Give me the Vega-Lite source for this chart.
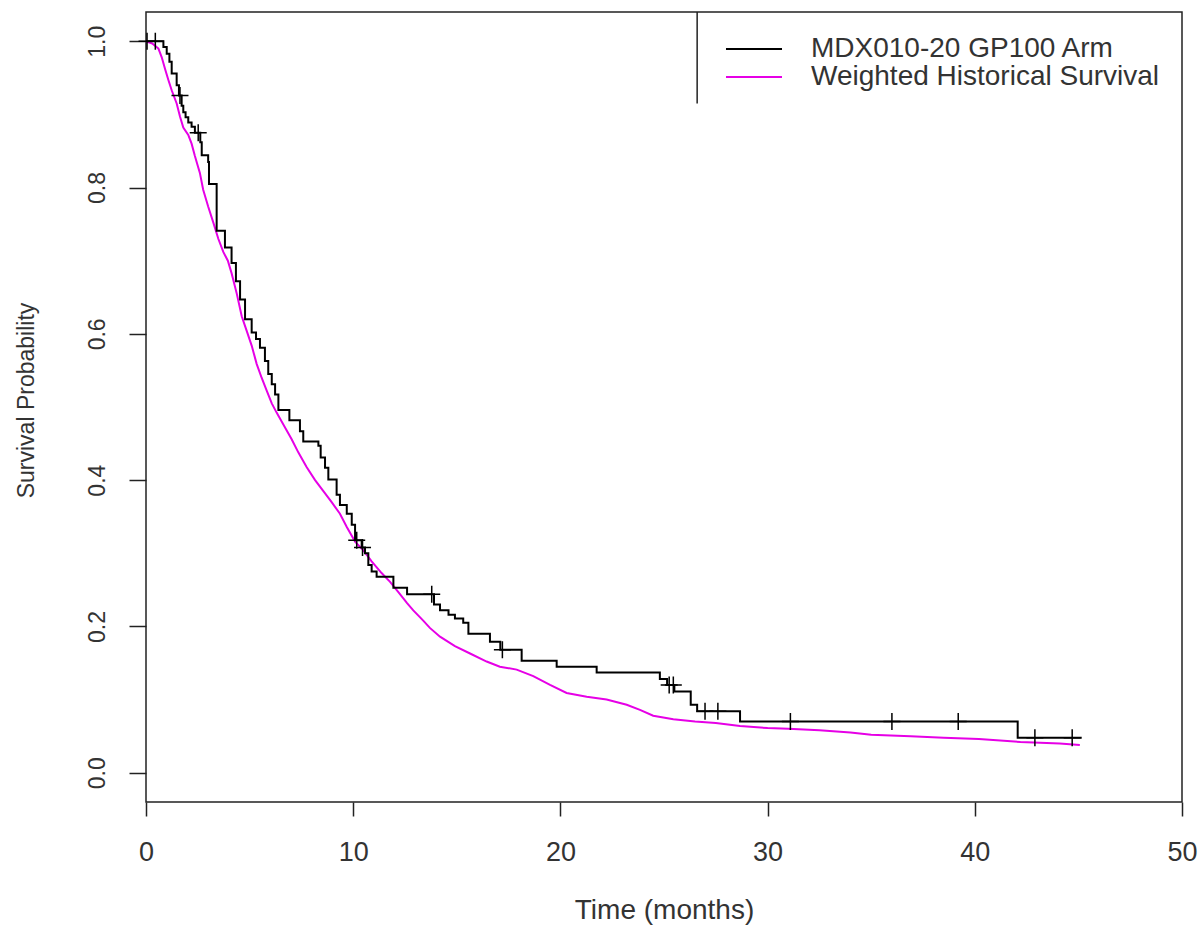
{
  "$schema": "https://vega.github.io/schema/vega-lite/v6.json",
  "autosize": {"type": "none"},
  "width": 1036,
  "height": 790,
  "padding": {"left": 146, "top": 12, "right": 19, "bottom": 123},
  "background": "white",
  "config": {
    "view": {"stroke": "#222", "strokeWidth": 1.5},
    "font": "Liberation Sans",
    "axis": {"grid": false, "domain": false, "labelFlush": false, "tickColor": "#222", "tickWidth": 1.5, "labelColor": "#333", "titleColor": "#333", "labelFont": "Liberation Sans", "titleFont": "Liberation Sans", "titleFontWeight": "normal"}
  },
  "datasets": {
    "curves": [
      {"series": "MDX010-20 GP100 Arm", "t": 0, "s": 1.0},
      {"series": "MDX010-20 GP100 Arm", "t": 0.84, "s": 0.992},
      {"series": "MDX010-20 GP100 Arm", "t": 1.0, "s": 0.983},
      {"series": "MDX010-20 GP100 Arm", "t": 1.13, "s": 0.972},
      {"series": "MDX010-20 GP100 Arm", "t": 1.24, "s": 0.956},
      {"series": "MDX010-20 GP100 Arm", "t": 1.48, "s": 0.940},
      {"series": "MDX010-20 GP100 Arm", "t": 1.59, "s": 0.926},
      {"series": "MDX010-20 GP100 Arm", "t": 1.72, "s": 0.912},
      {"series": "MDX010-20 GP100 Arm", "t": 1.80, "s": 0.903},
      {"series": "MDX010-20 GP100 Arm", "t": 1.91, "s": 0.896},
      {"series": "MDX010-20 GP100 Arm", "t": 2.04, "s": 0.889},
      {"series": "MDX010-20 GP100 Arm", "t": 2.2, "s": 0.883},
      {"series": "MDX010-20 GP100 Arm", "t": 2.36, "s": 0.875},
      {"series": "MDX010-20 GP100 Arm", "t": 2.62, "s": 0.862},
      {"series": "MDX010-20 GP100 Arm", "t": 2.69, "s": 0.844},
      {"series": "MDX010-20 GP100 Arm", "t": 3.0, "s": 0.835},
      {"series": "MDX010-20 GP100 Arm", "t": 3.04, "s": 0.805},
      {"series": "MDX010-20 GP100 Arm", "t": 3.41, "s": 0.741},
      {"series": "MDX010-20 GP100 Arm", "t": 3.81, "s": 0.718},
      {"series": "MDX010-20 GP100 Arm", "t": 4.13, "s": 0.697},
      {"series": "MDX010-20 GP100 Arm", "t": 4.34, "s": 0.672},
      {"series": "MDX010-20 GP100 Arm", "t": 4.54, "s": 0.647},
      {"series": "MDX010-20 GP100 Arm", "t": 4.78, "s": 0.620},
      {"series": "MDX010-20 GP100 Arm", "t": 5.1, "s": 0.602},
      {"series": "MDX010-20 GP100 Arm", "t": 5.31, "s": 0.593},
      {"series": "MDX010-20 GP100 Arm", "t": 5.5, "s": 0.581},
      {"series": "MDX010-20 GP100 Arm", "t": 5.74, "s": 0.563},
      {"series": "MDX010-20 GP100 Arm", "t": 5.9, "s": 0.545},
      {"series": "MDX010-20 GP100 Arm", "t": 6.07, "s": 0.531},
      {"series": "MDX010-20 GP100 Arm", "t": 6.23, "s": 0.517},
      {"series": "MDX010-20 GP100 Arm", "t": 6.39, "s": 0.496},
      {"series": "MDX010-20 GP100 Arm", "t": 6.92, "s": 0.482},
      {"series": "MDX010-20 GP100 Arm", "t": 7.43, "s": 0.467},
      {"series": "MDX010-20 GP100 Arm", "t": 7.59, "s": 0.453},
      {"series": "MDX010-20 GP100 Arm", "t": 8.32, "s": 0.447},
      {"series": "MDX010-20 GP100 Arm", "t": 8.43, "s": 0.431},
      {"series": "MDX010-20 GP100 Arm", "t": 8.64, "s": 0.417},
      {"series": "MDX010-20 GP100 Arm", "t": 8.8, "s": 0.401},
      {"series": "MDX010-20 GP100 Arm", "t": 9.2, "s": 0.380},
      {"series": "MDX010-20 GP100 Arm", "t": 9.36, "s": 0.366},
      {"series": "MDX010-20 GP100 Arm", "t": 9.69, "s": 0.354},
      {"series": "MDX010-20 GP100 Arm", "t": 9.93, "s": 0.339},
      {"series": "MDX010-20 GP100 Arm", "t": 10.09, "s": 0.318},
      {"series": "MDX010-20 GP100 Arm", "t": 10.41, "s": 0.308},
      {"series": "MDX010-20 GP100 Arm", "t": 10.57, "s": 0.300},
      {"series": "MDX010-20 GP100 Arm", "t": 10.73, "s": 0.284},
      {"series": "MDX010-20 GP100 Arm", "t": 10.89, "s": 0.275},
      {"series": "MDX010-20 GP100 Arm", "t": 11.13, "s": 0.268},
      {"series": "MDX010-20 GP100 Arm", "t": 11.94, "s": 0.253},
      {"series": "MDX010-20 GP100 Arm", "t": 12.6, "s": 0.244},
      {"series": "MDX010-20 GP100 Arm", "t": 13.9, "s": 0.230},
      {"series": "MDX010-20 GP100 Arm", "t": 14.19, "s": 0.222},
      {"series": "MDX010-20 GP100 Arm", "t": 14.6, "s": 0.216},
      {"series": "MDX010-20 GP100 Arm", "t": 14.91, "s": 0.211},
      {"series": "MDX010-20 GP100 Arm", "t": 15.31, "s": 0.205},
      {"series": "MDX010-20 GP100 Arm", "t": 15.56, "s": 0.190},
      {"series": "MDX010-20 GP100 Arm", "t": 16.6, "s": 0.179},
      {"series": "MDX010-20 GP100 Arm", "t": 17.1, "s": 0.168},
      {"series": "MDX010-20 GP100 Arm", "t": 18.13, "s": 0.153},
      {"series": "MDX010-20 GP100 Arm", "t": 19.82, "s": 0.145},
      {"series": "MDX010-20 GP100 Arm", "t": 21.75, "s": 0.137},
      {"series": "MDX010-20 GP100 Arm", "t": 24.8, "s": 0.128},
      {"series": "MDX010-20 GP100 Arm", "t": 25.15, "s": 0.120},
      {"series": "MDX010-20 GP100 Arm", "t": 25.5, "s": 0.111},
      {"series": "MDX010-20 GP100 Arm", "t": 26.29, "s": 0.093},
      {"series": "MDX010-20 GP100 Arm", "t": 26.6, "s": 0.084},
      {"series": "MDX010-20 GP100 Arm", "t": 28.67, "s": 0.070},
      {"series": "MDX010-20 GP100 Arm", "t": 42.07, "s": 0.048},
      {"series": "MDX010-20 GP100 Arm", "t": 45.16, "s": 0.048},
      {"series": "Weighted Historical Survival", "t": 0, "s": 1.0},
      {"series": "Weighted Historical Survival", "t": 0.3, "s": 0.997},
      {"series": "Weighted Historical Survival", "t": 0.6, "s": 0.990},
      {"series": "Weighted Historical Survival", "t": 0.76, "s": 0.978},
      {"series": "Weighted Historical Survival", "t": 0.92, "s": 0.962},
      {"series": "Weighted Historical Survival", "t": 1.08, "s": 0.947},
      {"series": "Weighted Historical Survival", "t": 1.24, "s": 0.933},
      {"series": "Weighted Historical Survival", "t": 1.48, "s": 0.915},
      {"series": "Weighted Historical Survival", "t": 1.64, "s": 0.897},
      {"series": "Weighted Historical Survival", "t": 1.80, "s": 0.882},
      {"series": "Weighted Historical Survival", "t": 2.04, "s": 0.872},
      {"series": "Weighted Historical Survival", "t": 2.2, "s": 0.860},
      {"series": "Weighted Historical Survival", "t": 2.36, "s": 0.843},
      {"series": "Weighted Historical Survival", "t": 2.6, "s": 0.820},
      {"series": "Weighted Historical Survival", "t": 2.76, "s": 0.797},
      {"series": "Weighted Historical Survival", "t": 3.0, "s": 0.774},
      {"series": "Weighted Historical Survival", "t": 3.25, "s": 0.752},
      {"series": "Weighted Historical Survival", "t": 3.49, "s": 0.730},
      {"series": "Weighted Historical Survival", "t": 3.73, "s": 0.712},
      {"series": "Weighted Historical Survival", "t": 3.95, "s": 0.700},
      {"series": "Weighted Historical Survival", "t": 4.13, "s": 0.683},
      {"series": "Weighted Historical Survival", "t": 4.38, "s": 0.655},
      {"series": "Weighted Historical Survival", "t": 4.62, "s": 0.624},
      {"series": "Weighted Historical Survival", "t": 4.86, "s": 0.604},
      {"series": "Weighted Historical Survival", "t": 5.1, "s": 0.584},
      {"series": "Weighted Historical Survival", "t": 5.34, "s": 0.559},
      {"series": "Weighted Historical Survival", "t": 5.58, "s": 0.540},
      {"series": "Weighted Historical Survival", "t": 5.83, "s": 0.522},
      {"series": "Weighted Historical Survival", "t": 6.07, "s": 0.505},
      {"series": "Weighted Historical Survival", "t": 6.31, "s": 0.492},
      {"series": "Weighted Historical Survival", "t": 6.71, "s": 0.472},
      {"series": "Weighted Historical Survival", "t": 7.03, "s": 0.456},
      {"series": "Weighted Historical Survival", "t": 7.35, "s": 0.438},
      {"series": "Weighted Historical Survival", "t": 7.75, "s": 0.418},
      {"series": "Weighted Historical Survival", "t": 8.16, "s": 0.400},
      {"series": "Weighted Historical Survival", "t": 8.56, "s": 0.385},
      {"series": "Weighted Historical Survival", "t": 8.96, "s": 0.370},
      {"series": "Weighted Historical Survival", "t": 9.36, "s": 0.354},
      {"series": "Weighted Historical Survival", "t": 9.69, "s": 0.336},
      {"series": "Weighted Historical Survival", "t": 10.09, "s": 0.316},
      {"series": "Weighted Historical Survival", "t": 10.49, "s": 0.304},
      {"series": "Weighted Historical Survival", "t": 10.89, "s": 0.289},
      {"series": "Weighted Historical Survival", "t": 11.37, "s": 0.273},
      {"series": "Weighted Historical Survival", "t": 11.78, "s": 0.261},
      {"series": "Weighted Historical Survival", "t": 12.18, "s": 0.247},
      {"series": "Weighted Historical Survival", "t": 12.6, "s": 0.232},
      {"series": "Weighted Historical Survival", "t": 12.9, "s": 0.222},
      {"series": "Weighted Historical Survival", "t": 13.38, "s": 0.208},
      {"series": "Weighted Historical Survival", "t": 13.7, "s": 0.198},
      {"series": "Weighted Historical Survival", "t": 14.19, "s": 0.186},
      {"series": "Weighted Historical Survival", "t": 14.91, "s": 0.173},
      {"series": "Weighted Historical Survival", "t": 15.64, "s": 0.163},
      {"series": "Weighted Historical Survival", "t": 16.44, "s": 0.152},
      {"series": "Weighted Historical Survival", "t": 17.08, "s": 0.145},
      {"series": "Weighted Historical Survival", "t": 17.89, "s": 0.141},
      {"series": "Weighted Historical Survival", "t": 18.69, "s": 0.132},
      {"series": "Weighted Historical Survival", "t": 19.5, "s": 0.120},
      {"series": "Weighted Historical Survival", "t": 20.3, "s": 0.109},
      {"series": "Weighted Historical Survival", "t": 21.27, "s": 0.104},
      {"series": "Weighted Historical Survival", "t": 22.23, "s": 0.100},
      {"series": "Weighted Historical Survival", "t": 23.2, "s": 0.093},
      {"series": "Weighted Historical Survival", "t": 23.84, "s": 0.086},
      {"series": "Weighted Historical Survival", "t": 24.48, "s": 0.078},
      {"series": "Weighted Historical Survival", "t": 25.45, "s": 0.073},
      {"series": "Weighted Historical Survival", "t": 26.5, "s": 0.070},
      {"series": "Weighted Historical Survival", "t": 27.5, "s": 0.068},
      {"series": "Weighted Historical Survival", "t": 28.67, "s": 0.064},
      {"series": "Weighted Historical Survival", "t": 30.0, "s": 0.061},
      {"series": "Weighted Historical Survival", "t": 31.0, "s": 0.060},
      {"series": "Weighted Historical Survival", "t": 32.5, "s": 0.058},
      {"series": "Weighted Historical Survival", "t": 34.0, "s": 0.055},
      {"series": "Weighted Historical Survival", "t": 35.0, "s": 0.052},
      {"series": "Weighted Historical Survival", "t": 36.9, "s": 0.050},
      {"series": "Weighted Historical Survival", "t": 38.5, "s": 0.048},
      {"series": "Weighted Historical Survival", "t": 40.2, "s": 0.046},
      {"series": "Weighted Historical Survival", "t": 42.2, "s": 0.042},
      {"series": "Weighted Historical Survival", "t": 44.1, "s": 0.040},
      {"series": "Weighted Historical Survival", "t": 45.07, "s": 0.038}
    ],
    "censor": [
      {"t": 0.05, "s": 1.0}, {"t": 0.45, "s": 1.0}, {"t": 1.64, "s": 0.926}, {"t": 2.52, "s": 0.875},
      {"t": 10.17, "s": 0.318}, {"t": 10.45, "s": 0.308}, {"t": 13.79, "s": 0.244}, {"t": 17.2, "s": 0.168},
      {"t": 25.25, "s": 0.120}, {"t": 25.45, "s": 0.120}, {"t": 26.98, "s": 0.084}, {"t": 27.6, "s": 0.084},
      {"t": 31.1, "s": 0.070}, {"t": 36.0, "s": 0.070}, {"t": 39.2, "s": 0.070}, {"t": 42.9, "s": 0.048}, {"t": 44.7, "s": 0.048}
    ],
    "legendedge": [{"t": 26.6, "s": 1.04, "s2": 0.915}]
  },
  "layer": [
    {
      "data": {"name": "curves"},
      "transform": [{"filter": "datum.series === 'Weighted Historical Survival'"}],
      "mark": {"type": "line", "interpolate": "linear", "strokeWidth": 2},
      "encoding": {
        "x": {"field": "t", "type": "quantitative", "scale": {"domain": [0, 50], "nice": false, "zero": false},
              "axis": {"values": [0, 10, 20, 30, 40, 50], "title": "Time (months)", "tickSize": 14, "labelFontSize": 27, "labelPadding": 44, "labelBaseline": "alphabetic", "titleFontSize": 28, "titleBaseline": "alphabetic", "titleY": 116}},
        "y": {"field": "s", "type": "quantitative", "scale": {"domain": [-0.04, 1.04], "nice": false, "zero": false},
              "axis": {"values": [0, 0.2, 0.4, 0.6, 0.8, 1.0], "format": ".1f", "title": "Survival Probability", "tickSize": 17, "labelFontSize": 23, "labelAngle": -90, "labelAlign": "center", "labelBaseline": "middle", "labelPadding": 32, "titleFontSize": 23, "titleAngle": -90, "titleAlign": "center", "titleBaseline": "middle", "titleX": -120, "titleY": 388}},
        "color": {"field": "series", "type": "nominal",
                  "scale": {"domain": ["MDX010-20 GP100 Arm", "Weighted Historical Survival"], "range": ["#000000", "#e600e6"]},
                  "legend": {"title": null, "orient": "none", "legendX": 594, "legendY": 23, "padding": 0, "symbolType": "M-2.5,0H2.5", "symbolSize": 502, "symbolStrokeWidth": 2, "labelFontSize": 28, "labelFont": "Liberation Sans", "labelColor": "#333", "labelOffset": 43, "labelLimit": 0, "rowPadding": 0}},
        "order": {"field": "t", "type": "quantitative"}
      }
    },
    {
      "data": {"name": "curves"},
      "transform": [{"filter": "datum.series === 'MDX010-20 GP100 Arm'"}],
      "mark": {"type": "line", "interpolate": "step-after", "strokeWidth": 2},
      "encoding": {
        "x": {"field": "t", "type": "quantitative"},
        "y": {"field": "s", "type": "quantitative"},
        "color": {"field": "series", "type": "nominal"},
        "order": {"field": "t", "type": "quantitative"}
      }
    },
    {
      "data": {"name": "censor"},
      "mark": {"type": "point", "shape": "M-1,0H1M0,-1V1", "filled": false, "stroke": "#000000", "strokeWidth": 1.5, "size": 289, "opacity": 1},
      "encoding": {
        "x": {"field": "t", "type": "quantitative"},
        "y": {"field": "s", "type": "quantitative"}
      }
    },
    {
      "data": {"name": "legendedge"},
      "mark": {"type": "rule", "stroke": "#222", "strokeWidth": 1.5},
      "encoding": {
        "x": {"field": "t", "type": "quantitative"},
        "y": {"field": "s", "type": "quantitative"},
        "y2": {"field": "s2"}
      }
    }
  ]
}
